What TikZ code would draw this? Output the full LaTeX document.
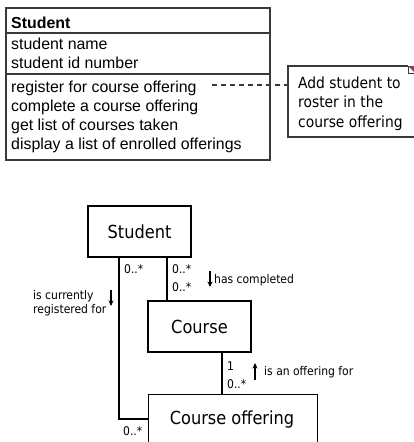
\documentclass[tikz,border=0pt]{standalone}
\usepackage{fontspec}
\setmainfont{Liberation Sans}
\newfontfamily\umlfont{DejaVu Sans Condensed}
\usetikzlibrary{arrows.meta}
\definecolor{edge}{HTML}{3A3A3A}
\definecolor{foldc}{HTML}{8A3A6E}
\begin{document}
\begin{tikzpicture}[x=1pt,y=-1pt,
  classtxt/.style={anchor=base west,inner sep=0pt,font=\fontsize{15.9}{19}\selectfont},
  frame/.style={draw=edge,line width=1.3pt},
  umlbox/.style={draw=black,line width=1.2pt,inner sep=0pt,font=\umlfont\fontsize{18}{21}\selectfont},
  notetxt/.style={anchor=base west,inner sep=0pt,font=\umlfont\fontsize{15.4}{19}\selectfont},
  small/.style={inner sep=0pt,font=\umlfont\fontsize{12}{14}\selectfont},
  assoc/.style={draw=black,line width=2pt},
  dir/.style={-{Stealth[length=5.5pt,width=5pt]},line width=1.2pt}]
\clip (0,0) rectangle (414,442);
\fill[white] (0,0) rectangle (414,442);

% class box with compartments
\draw[frame] (6,8) rectangle (270,160);
\draw[frame] (6,33) -- (270,33);
\draw[frame] (6,74) -- (270,74);
\node[classtxt,font=\bfseries\fontsize{15.9}{19}\selectfont] (cname) at (11,28) {Student};
\node[classtxt] (a1) at (11,49) {student name};
\node[classtxt] (a2) at (11,68) {student id number};
\node[classtxt] (o1) at (11,92) {register for course offering};
\node[classtxt] (o2) at (11,111) {complete a course offering};
\node[classtxt] (o3) at (11,130) {get list of courses taken};
\node[classtxt] (o4) at (11,149) {display a list of enrolled offerings};

% note attached to the first operation
\draw[frame,line width=1.1pt] (408,66) -- (288,66) -- (288,137) -- (416,137);
\fill[foldc] (408,66) -- (415,66) -- (415,73) -- cycle;
\draw[edge,line width=0.8pt] (408,66) -- (408,73) -- (415,73);
\coordinate (noteL) at (288,85);
\node[notetxt] (n1) at (298,88) {Add student to};
\node[notetxt] (n2) at (298,107) {roster in the};
\node[notetxt] (n3) at (298,127) {course offering};
\coordinate (opR) at (212,85);
\draw[edge,line width=1.2pt,dash pattern=on 5pt off 4pt] (opR) -- (noteL);

% class diagram
\node[umlbox,minimum width=103pt,minimum height=51pt] (stu) at (139.5,231.5) {Student};
\node[umlbox,minimum width=103pt,minimum height=51pt] (crs) at (199.5,326.5) {Course};
\node[umlbox,minimum width=169pt,minimum height=52pt,anchor=north west] (off) at (148,394) {};
\node[inner sep=0pt,font=\umlfont\fontsize{18}{21}\selectfont] (offtxt) at (232,420) {Course offering};

% association routes
\coordinate (regX) at (119,0);
\coordinate (cmpX) at (167,0);
\coordinate (ofrX) at (222,0);
\coordinate (regBot) at (119,419);
\draw[assoc] (stu.south -| regX) -- (regBot) -- (off.west |- regBot);
\draw[assoc] (stu.south -| cmpX) -- (crs.north -| cmpX);
\draw[assoc] (crs.south -| ofrX) -- (off.north -| ofrX);

% multiplicities and role labels
\node[small,anchor=base west] (m1) at (124,273) {0..*};
\node[small,anchor=base west] (m2) at (172,273) {0..*};
\node[small,anchor=base west] (m3) at (172,291) {0..*};
\node[small,anchor=base west] (m4) at (227,370) {1};
\node[small,anchor=base west] (m5) at (227,388) {0..*};
\node[small,anchor=base west] (m6) at (123,435) {0..*};

\node[small,anchor=base west] (r1) at (33,299) {is currently};
\node[small,anchor=base west] (r2) at (33,313) {registered for};
\draw[dir] (111,290) -- (111,306);
\node[small,anchor=base west] (r3) at (214,283) {has completed};
\draw[dir] (210,271) -- (210,287);
\node[small,anchor=base west] (r4) at (264,375) {is an offering for};
\draw[dir] (255,380) -- (255,363);
\end{tikzpicture}
\end{document}
